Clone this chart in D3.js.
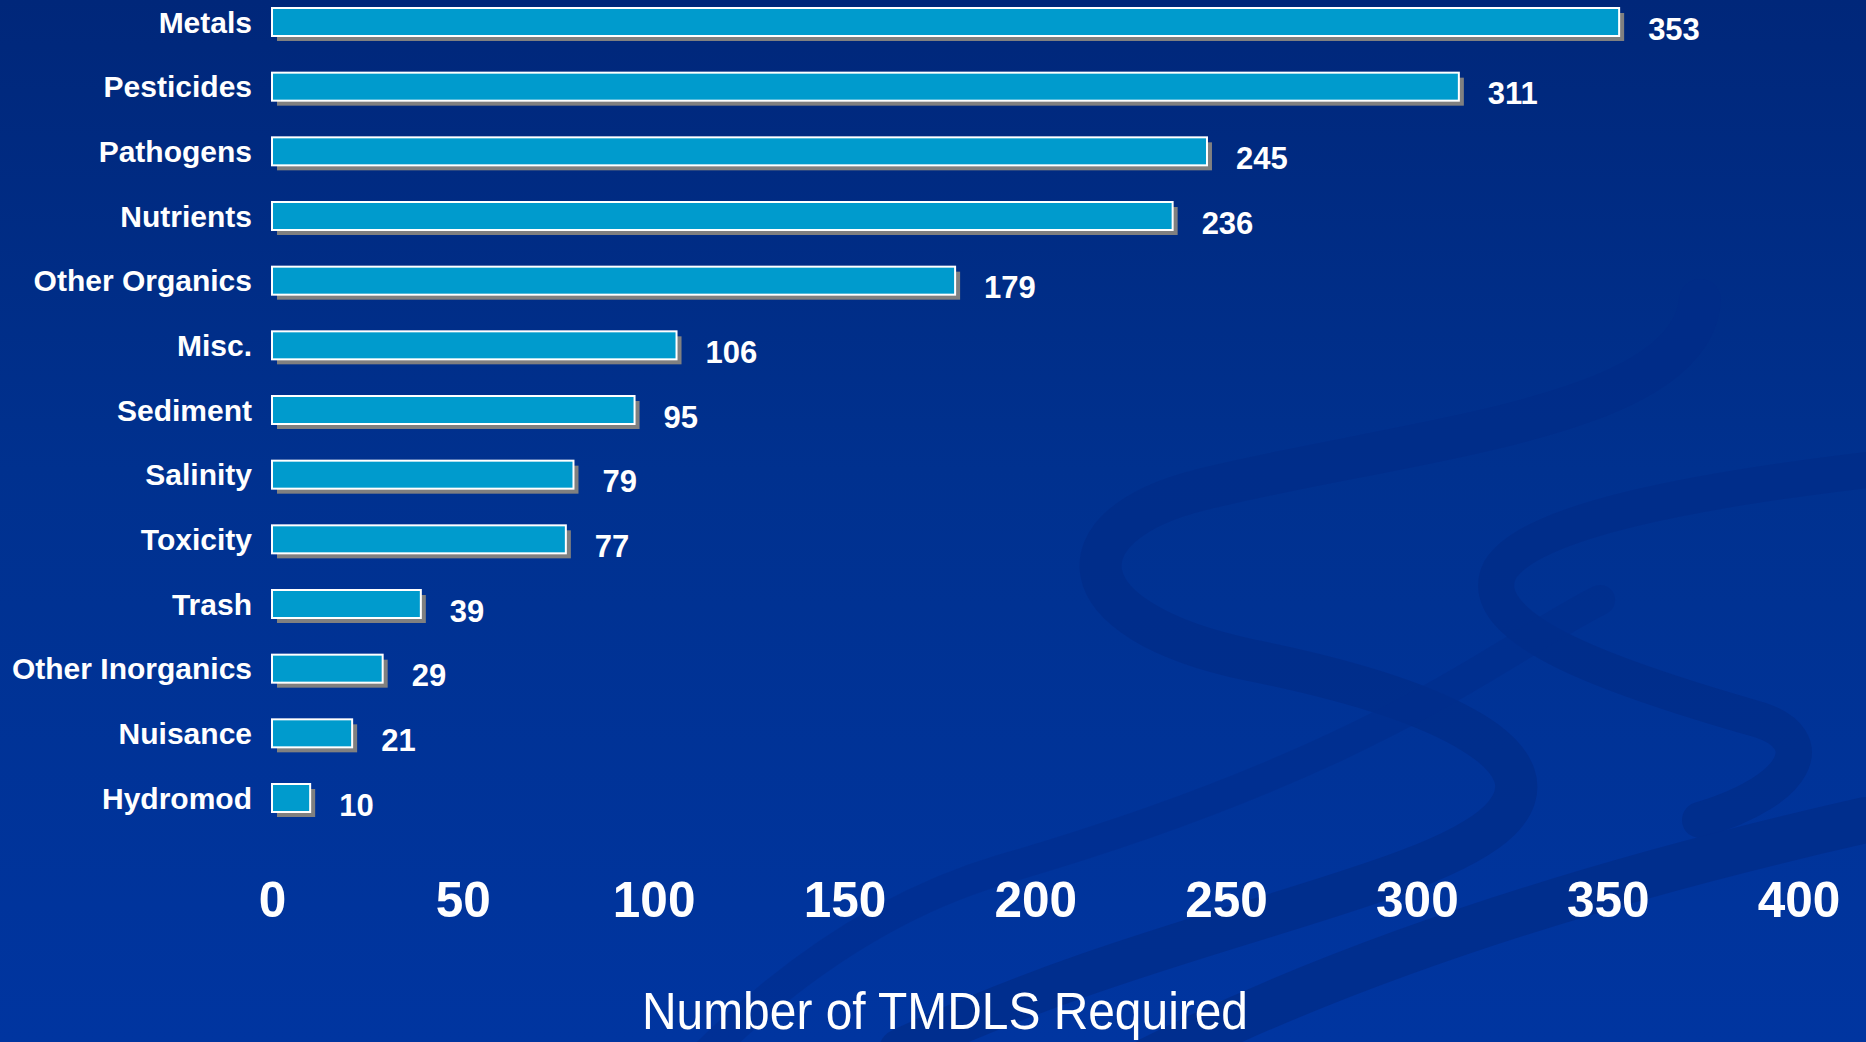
<!DOCTYPE html>
<html>
<head>
<meta charset="utf-8">
<script src="https://cdn.jsdelivr.net/npm/d3@7"></script>
<style>
  html, body { margin: 0; padding: 0; background: #0032a0; overflow: hidden; }
  svg { display: block; }
</style>
</head>
<body>
<svg id="chart" width="1866" height="1042"></svg>
<script>
// ---- Data ----
const categories = ["Metals", "Pesticides", "Pathogens", "Nutrients", "Other Organics", "Misc.",
  "Sediment", "Salinity", "Toxicity", "Trash", "Other Inorganics", "Nuisance", "Hydromod"];
const values = [353, 311, 245, 236, 179, 106, 95, 79, 77, 39, 29, 21, 10];
const xTicks = [0, 50, 100, 150, 200, 250, 300, 350, 400];
const xTitle = "Number of TMDLS Required";

// ---- Setup ----
const W = 1866, H = 1042;
const svg = d3.select("#chart");
const defs = svg.append("defs");
const bg = defs.append("linearGradient").attr("id", "bg").attr("x1", 0).attr("y1", 0).attr("x2", 0).attr("y2", 1);
bg.append("stop").attr("offset", "0%").attr("stop-color", "#00277a");
bg.append("stop").attr("offset", "45%").attr("stop-color", "#00318f");
bg.append("stop").attr("offset", "100%").attr("stop-color", "#0035a0");
svg.append("rect").attr("width", W).attr("height", H).attr("fill", "url(#bg)");

// decorative swooshes (background ornament)
const deco = svg.append("g").attr("fill", "none").attr("stroke", "#002c88").attr("stroke-linecap", "round").attr("opacity", 0.7);
deco.append("path")
  .attr("d", "M1700,300 C1690,420 1400,440 1200,490 C1060,525 1060,620 1250,660 C1450,700 1560,760 1500,820 C1430,890 1150,930 900,1050")
  .attr("stroke-width", 42);
deco.append("path")
  .attr("d", "M1866,470 C1700,490 1530,520 1500,570 C1470,630 1620,680 1760,720 C1820,740 1800,790 1700,820")
  .attr("stroke-width", 36);
deco.append("path")
  .attr("d", "M1866,820 C1600,880 1350,960 1150,1060")
  .attr("stroke-width", 46);
deco.append("path")
  .attr("d", "M1600,600 C1500,650 1380,760 1000,870 C900,900 800,960 700,1060")
  .attr("stroke-width", 30).attr("opacity", 0.6);

// ---- Scales ----
const x = d3.scaleLinear().domain([0, 400]).range([272, 1798.5]);
const y = d3.scalePoint().domain(categories).range([22, 798]);
const barH = 28;
const data = categories.map((c, i) => ({ c, v: values[i] }));

// ---- Bars ----
const bars = svg.append("g");
bars.selectAll("rect.shadow").data(data).join("rect")
  .attr("class", "shadow")
  .attr("x", x(0) + 5)
  .attr("y", d => y(d.c) - barH / 2 + 5)
  .attr("width", d => x(d.v) - x(0))
  .attr("height", barH)
  .attr("fill", "#808080");
bars.selectAll("rect.bar").data(data).join("rect")
  .attr("class", "bar")
  .attr("x", x(0))
  .attr("y", d => y(d.c) - barH / 2)
  .attr("width", d => x(d.v) - x(0))
  .attr("height", barH)
  .attr("fill", "#009bcd")
  .attr("stroke", "#ffffff")
  .attr("stroke-width", 2);

// ---- Value labels ----
svg.append("g").selectAll("text").data(data).join("text")
  .attr("x", d => x(d.v) + 29)
  .attr("y", d => y(d.c) + 7)
  .attr("dominant-baseline", "central")
  .attr("fill", "#ffffff")
  .attr("font-family", "Liberation Sans, Arial, sans-serif")
  .attr("font-weight", "bold")
  .attr("font-size", 31)
  .text(d => d.v);

// ---- Category labels ----
svg.append("g").selectAll("text").data(data).join("text")
  .attr("x", 252)
  .attr("y", d => y(d.c))
  .attr("text-anchor", "end")
  .attr("dominant-baseline", "central")
  .attr("fill", "#ffffff")
  .attr("font-family", "Liberation Sans, Arial, sans-serif")
  .attr("font-weight", "bold")
  .attr("font-size", 30)
  .text(d => d.c);

// ---- X axis ----
const axis = svg.append("g")
  .attr("transform", "translate(0,917)")
  .call(d3.axisBottom(x).tickValues(xTicks).tickSize(0).tickFormat(d3.format("d")));
axis.select(".domain").remove();
axis.selectAll("text")
  .attr("y", 0).attr("dy", 0)
  .attr("fill", "#ffffff")
  .attr("font-family", "Liberation Sans, Arial, sans-serif")
  .attr("font-weight", "bold")
  .attr("font-size", 49.5);

// ---- Axis title ----
svg.append("text")
  .attr("x", 945)
  .attr("y", 1029)
  .attr("text-anchor", "middle")
  .attr("fill", "#ffffff")
  .attr("font-family", "Liberation Sans, Arial, sans-serif")
  .attr("font-size", 51)
  .attr("textLength", 606)
  .attr("lengthAdjust", "spacingAndGlyphs")
  .text(xTitle);
</script>
</body>
</html>
